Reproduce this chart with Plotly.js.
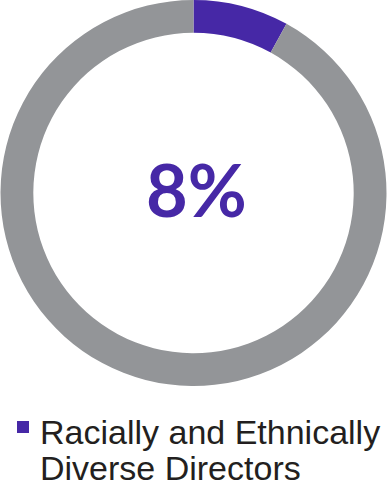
<!DOCTYPE html>
<html><head><meta charset="utf-8">
<script src="https://cdn.plot.ly/plotly-3.0.1.min.js"></script>
<style>html,body{margin:0;padding:0;background:#fff}#c{width:387px;height:491px}</style>
</head><body><div id="c"></div>
<script>
const labels = ["Racially and Ethnically Diverse Directors", "Other Directors"];
const values = [8, 92];
const colors = ["#4628a6", "#939598"];
const centerLabel = "8%";
const legendLines = ["Racially and Ethnically", "Diverse Directors"];

const legendAnns = legendLines.map((t, i) => ({
  x: 38/387, y: 1 - (432 + 36*i)/491, xref: "paper", yref: "paper", text: t, showarrow: false,
  align: "left", xanchor: "left", yanchor: "middle",
  font: {family: "'Liberation Sans', Arial, sans-serif", size: 34, color: "#231f20"}
}));

const data = [{
  type: "pie", labels: labels, values: values, hole: 0.83, sort: false,
  direction: "clockwise", rotation: 0,
  marker: {colors: colors, line: {width: 0}},
  textinfo: "none", hoverinfo: "none", showlegend: false,
  domain: {x: [0, 1], y: [1 - 386/491, 1]}
}];
const layout = {
  width: 387, height: 491, margin: {l: 0, r: 0, t: 0, b: 0},
  paper_bgcolor: "#fff", plot_bgcolor: "#fff", showlegend: false,
  annotations: [
    {x: 196/387, y: 1 - 189/491, xref: "paper", yref: "paper", text: "<b>" + centerLabel + "</b>", showarrow: false,
     font: {family: "Lato, sans-serif", size: 72, color: colors[0]}, xanchor: "center", yanchor: "middle"}
  ].concat(legendAnns),
  shapes: [
    {type: "rect", xref: "paper", yref: "paper", x0: 17/387, x1: 29/387, y0: 1 - 433/491, y1: 1 - 421/491,
     fillcolor: colors[0], line: {width: 0}}
  ]
};
Plotly.newPlot("c", data, layout, {displayModeBar: false, staticPlot: true});
</script></body></html>
